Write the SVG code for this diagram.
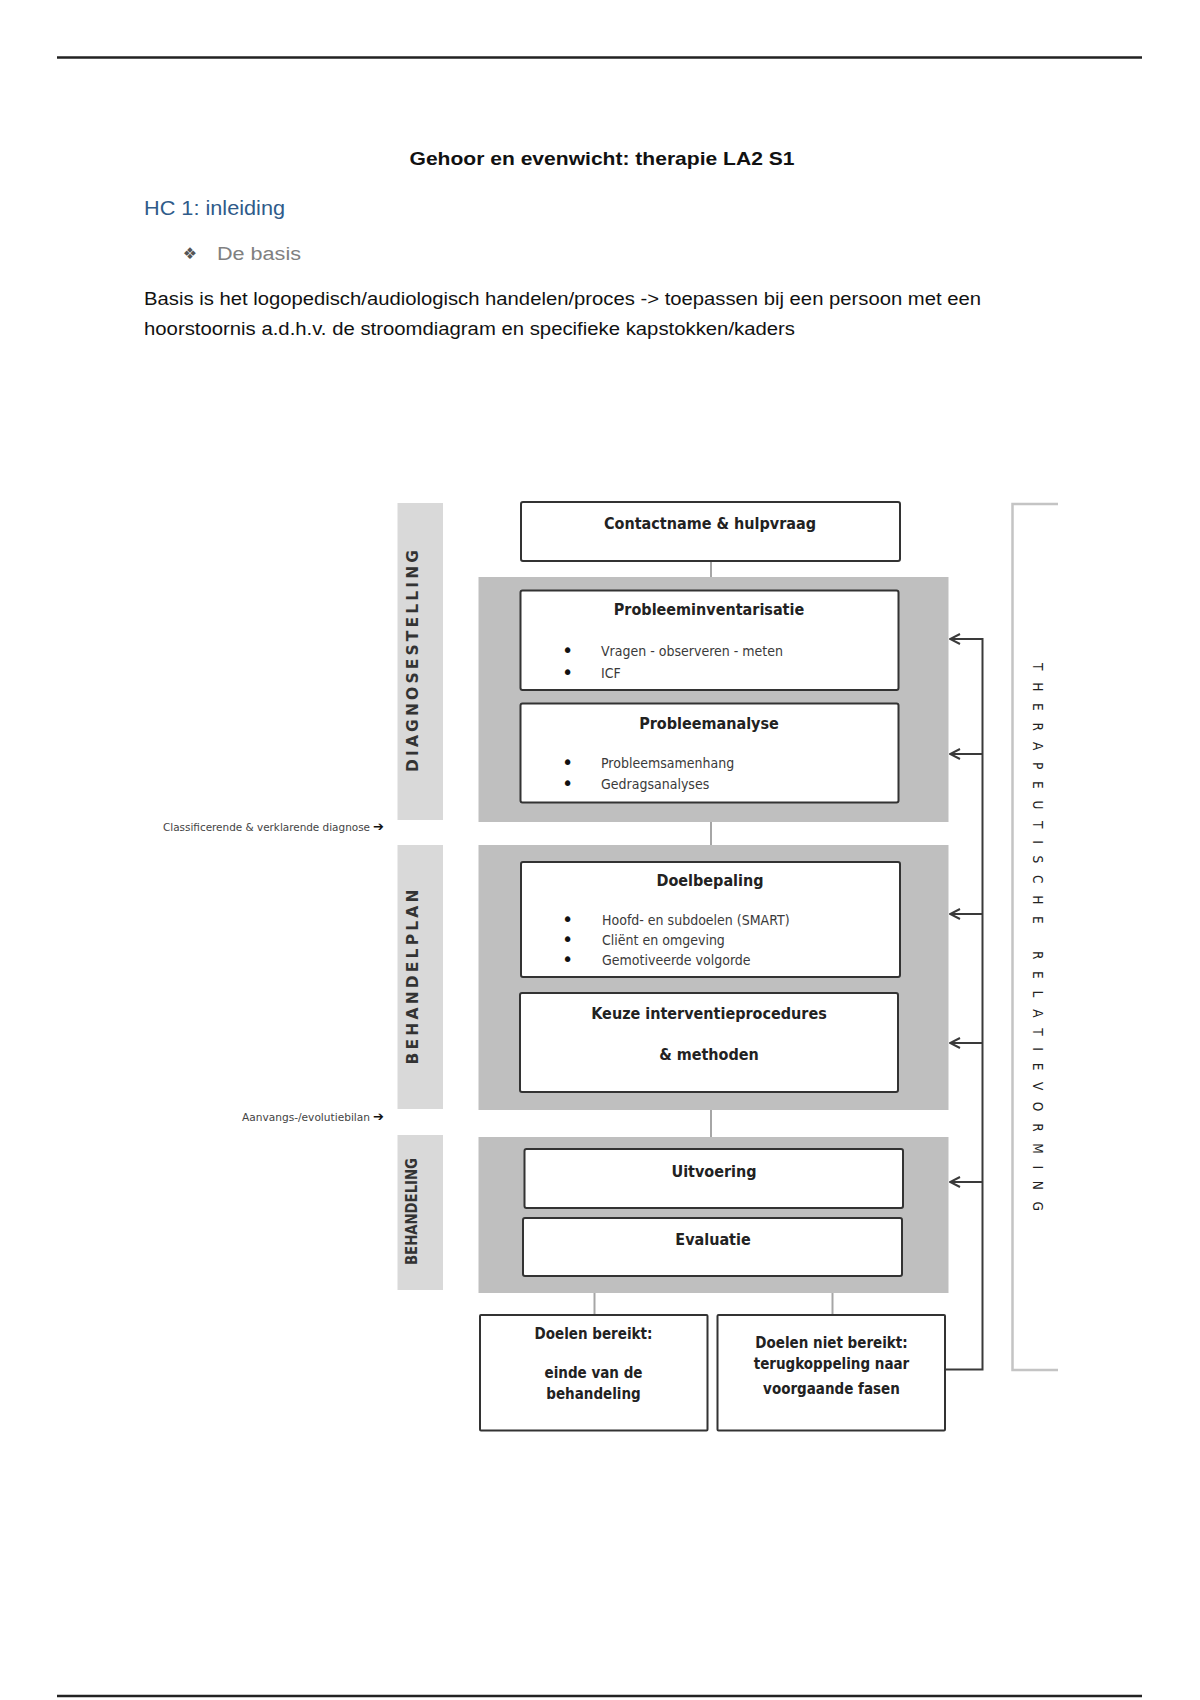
<svg xmlns="http://www.w3.org/2000/svg" width="1200" height="1700" viewBox="0 0 1200 1700">
<defs>
<style>
.doc{font-family:"Liberation Sans",Arial,sans-serif}
.dg{font-family:"DejaVu Sans Condensed","DejaVu Sans",sans-serif}
.box{fill:#fff;stroke:#333;stroke-width:2}
.panel{fill:#bfbfbf}
.side{fill:#d9d9d9}
.conn{stroke:#a6a6a6;stroke-width:2;fill:none}
.fb{stroke:#3a3a3a;stroke-width:2;fill:none}
.ttl{font-weight:bold;font-size:16px;fill:#222;text-anchor:middle}
.bul{font-size:14px;fill:#3a3a3a}
.dot{font-size:19px;fill:#111;font-family:"DejaVu Sans",sans-serif}
.end{font-weight:bold;font-size:15px;fill:#222;text-anchor:middle}
.sidet{font-weight:bold;font-size:15.5px;fill:#333;text-anchor:middle;font-family:"DejaVu Sans",sans-serif}
.sidec{font-weight:bold;font-size:15px;fill:#333;text-anchor:middle}
.note{font-size:11px;fill:#444}
</style>
<marker id="ah" viewBox="0 0 12 12" refX="11" refY="6" markerWidth="12" markerHeight="12" markerUnits="userSpaceOnUse" orient="auto">
<path d="M1,1 L11,6 L1,11" fill="none" stroke="#3a3a3a" stroke-width="2"/>
</marker>
</defs>
<rect width="1200" height="1700" fill="#fff"/>
<line x1="57" y1="57.5" x2="1142" y2="57.5" stroke="#222" stroke-width="2.5"/>
<line x1="57" y1="1696" x2="1142" y2="1696" stroke="#222" stroke-width="2.5"/>
<g class="doc">
<text x="602" y="165" font-size="19" font-weight="bold" text-anchor="middle" fill="#111" textLength="385" lengthAdjust="spacingAndGlyphs">Gehoor en evenwicht: therapie LA2 S1</text>
<text x="144" y="215" font-size="20" fill="#2f5b8a" textLength="141" lengthAdjust="spacingAndGlyphs">HC 1: inleiding</text>
<text x="190" y="259" font-size="16" fill="#555" text-anchor="middle" font-family="DejaVu Sans,sans-serif">❖</text>
<text x="217" y="260" font-size="18" fill="#808080" textLength="84" lengthAdjust="spacingAndGlyphs">De basis</text>
<text x="144" y="305" font-size="17.5" fill="#111" textLength="837" lengthAdjust="spacingAndGlyphs">Basis is het logopedisch/audiologisch handelen/proces -&gt; toepassen bij een persoon met een</text>
<text x="144" y="335" font-size="17.5" fill="#111" textLength="651" lengthAdjust="spacingAndGlyphs">hoorstoornis a.d.h.v. de stroomdiagram en specifieke kapstokken/kaders</text>
</g>
<g id="side-diagnose">
<rect class="side" x="397.5" y="503" width="45.5" height="317"/>
<text class="sidet" transform="translate(417.5,661) rotate(-90)" textLength="222" lengthAdjust="spacing">DIAGNOSESTELLING</text>
</g>
<g id="side-behandelplan">
<rect class="side" x="397.5" y="845" width="45.5" height="264"/>
<text class="sidet" transform="translate(417.5,977) rotate(-90)" textLength="175" lengthAdjust="spacing">BEHANDELPLAN</text>
</g>
<g id="side-behandeling">
<rect class="side" x="397.5" y="1135" width="45.5" height="155"/>
<text class="dg sidec" transform="translate(417,1211.5) rotate(-90)" textLength="107" lengthAdjust="spacingAndGlyphs">BEHANDELING</text>
</g>
<g id="note-diagnose">
<text class="dg note" x="163" y="830.5" textLength="207" lengthAdjust="spacingAndGlyphs">Classificerende &amp;  verklarende diagnose</text>
<text x="373" y="831" font-size="13" fill="#111" font-family="DejaVu Sans,sans-serif">➔</text>
</g>
<g id="note-bilan">
<text class="dg note" x="242" y="1120.5" textLength="128" lengthAdjust="spacingAndGlyphs">Aanvangs-/evolutiebilan</text>
<text x="373" y="1121" font-size="13" fill="#111" font-family="DejaVu Sans,sans-serif">➔</text>
</g>
<g id="panel-diagnose"><rect class="panel" x="478.5" y="577" width="470" height="245"/></g>
<g id="panel-behandelplan"><rect class="panel" x="478.5" y="845" width="470" height="265"/></g>
<g id="panel-behandeling"><rect class="panel" x="478.5" y="1137" width="470" height="156"/></g>
<g id="connectors">
<line class="conn" x1="711" y1="561" x2="711" y2="577"/>
<line class="conn" x1="711" y1="822" x2="711" y2="845"/>
<line class="conn" x1="711" y1="1110" x2="711" y2="1137"/>
<line class="conn" x1="594.5" y1="1293" x2="594.5" y2="1315"/>
<line class="conn" x1="832.5" y1="1293" x2="832.5" y2="1315"/>
<path class="fb" d="M945,1369.5 H982.5 V638"/>
<line class="fb" x1="982.5" y1="639" x2="950" y2="639" marker-end="url(#ah)"/>
<line class="fb" x1="982.5" y1="754" x2="950" y2="754" marker-end="url(#ah)"/>
<line class="fb" x1="982.5" y1="914" x2="950" y2="914" marker-end="url(#ah)"/>
<line class="fb" x1="982.5" y1="1043" x2="950" y2="1043" marker-end="url(#ah)"/>
<line class="fb" x1="982.5" y1="1182" x2="950" y2="1182" marker-end="url(#ah)"/>
</g>
<g id="contactname">
<rect class="box" x="521" y="502" width="379" height="59" rx="2"/>
<text class="dg ttl" x="710" y="529">Contactname &amp; hulpvraag</text>
</g>
<g id="probleeminventarisatie">
<rect class="box" x="520.5" y="590.5" width="378" height="99.5" rx="2"/>
<text class="dg ttl" x="709" y="615">Probleeminventarisatie</text>
<text class="dot" x="562" y="657">•</text><text class="dg bul" x="601" y="656">Vragen - observeren - meten</text>
<text class="dot" x="562" y="679">•</text><text class="dg bul" x="601" y="678">ICF</text>
</g>
<g id="probleemanalyse">
<rect class="box" x="520.5" y="703.5" width="378" height="99" rx="2"/>
<text class="dg ttl" x="709" y="729">Probleemanalyse</text>
<text class="dot" x="562" y="769">•</text><text class="dg bul" x="601" y="768">Probleemsamenhang</text>
<text class="dot" x="562" y="790">•</text><text class="dg bul" x="601" y="789">Gedragsanalyses</text>
</g>
<g id="doelbepaling">
<rect class="box" x="521" y="862" width="379" height="115" rx="2"/>
<text class="dg ttl" x="710" y="886">Doelbepaling</text>
<text class="dot" x="562" y="926">•</text><text class="dg bul" x="602" y="925">Hoofd- en subdoelen (SMART)</text>
<text class="dot" x="562" y="946">•</text><text class="dg bul" x="602" y="945">Cliënt en omgeving</text>
<text class="dot" x="562" y="966">•</text><text class="dg bul" x="602" y="965">Gemotiveerde volgorde</text>
</g>
<g id="keuze">
<rect class="box" x="520" y="993" width="378" height="99" rx="2"/>
<text class="dg ttl" x="709" y="1019">Keuze interventieprocedures</text>
<text class="dg ttl" x="709" y="1060">&amp; methoden</text>
</g>
<g id="uitvoering">
<rect class="box" x="524.5" y="1149" width="378.5" height="59" rx="2"/>
<text class="dg ttl" x="714" y="1177">Uitvoering</text>
</g>
<g id="evaluatie">
<rect class="box" x="523" y="1218" width="379" height="58" rx="2"/>
<text class="dg ttl" x="713" y="1245">Evaluatie</text>
</g>
<g id="doelen-bereikt">
<rect class="box" x="480" y="1315" width="227.5" height="115.5" rx="1"/>
<text class="dg end" x="593.5" y="1338.5">Doelen bereikt:</text>
<text class="dg end" x="593.5" y="1377.5">einde van de</text>
<text class="dg end" x="593.5" y="1399">behandeling</text>
</g>
<g id="doelen-niet-bereikt">
<rect class="box" x="717.5" y="1315" width="227.5" height="115.5" rx="1"/>
<text class="dg end" x="831.5" y="1347.5">Doelen niet bereikt:</text>
<text class="dg end" x="831.5" y="1369">terugkoppeling naar</text>
<text class="dg end" x="831.5" y="1394">voorgaande fasen</text>
</g>
<g id="therapeutische-relatievorming">
<path d="M1058,504 H1012.5 V1370 H1058" fill="none" stroke="#c4c4c4" stroke-width="2.5"/>
<text class="dg" x="0" y="0" font-size="13.5" fill="#222" text-anchor="middle" transform="translate(1033,937) rotate(90)" textLength="548" lengthAdjust="spacing">THERAPEUTISCHE RELATIEVORMING</text>
</g>
</svg>
